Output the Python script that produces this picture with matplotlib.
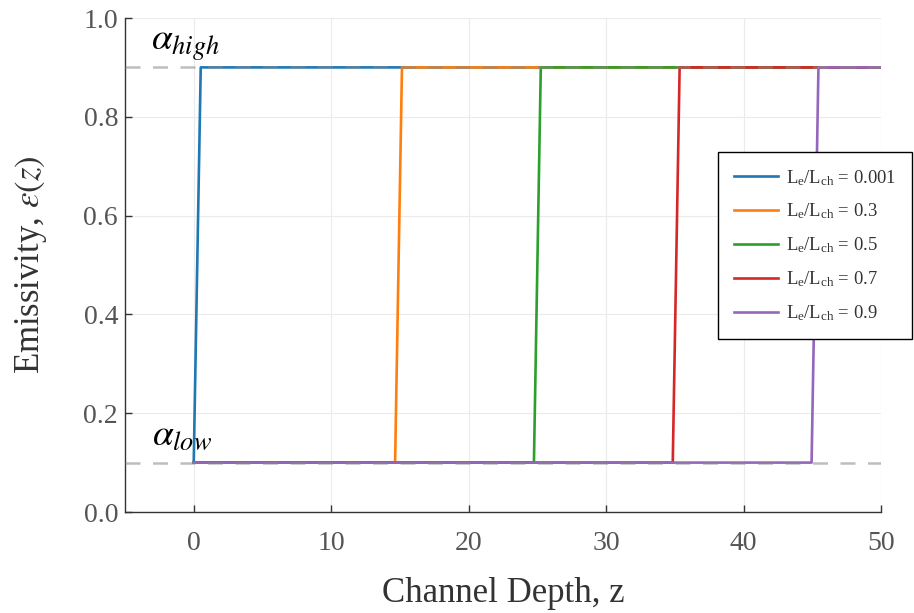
import matplotlib
matplotlib.use("Agg")
import matplotlib.pyplot as plt

# Emissivity profiles: low value up to the ramp start, high value after the ramp end
ratios = [0.001, 0.3, 0.5, 0.7, 0.9]
ramp_start = [0.0, 14.65, 24.75, 34.85, 44.95]
ramp_end = [0.51, 15.15, 25.25, 35.35, 45.45]
alpha_low = 0.1
alpha_high = 0.9
z_min, z_max = 0.0, 50.0
colors = ["#1f77b4", "#ff7f0e", "#2ca02c", "#d62728", "#9467bd"]

plt.rcParams["font.family"] = ["Liberation Serif", "DejaVu Serif"]
plt.rcParams["mathtext.fontset"] = "custom"
plt.rcParams["mathtext.rm"] = "Liberation Serif"
plt.rcParams["mathtext.it"] = "Liberation Serif:italic"

fig = plt.figure(figsize=(9.14, 6.13), dpi=100)
ax = fig.add_axes([125 / 914, 1 - 512 / 613, (881 - 125) / 914, (512 - 18) / 613])

for r, zs, ze, c in zip(ratios, ramp_start, ramp_end, colors):
    z = [z_min, zs, ze, z_max]
    e = [alpha_low, alpha_low, alpha_high, alpha_high]
    ax.plot(z, e, color=c, lw=1.9, label=r"L$_\mathrm{e}$/L$_\mathrm{ch}$ = " + f"{r:g}", zorder=3)

for level in (alpha_low, alpha_high):
    ax.plot([-5, 50], [level, level], color="#888888", alpha=0.55, lw=1.8,
            dashes=(6, 5), zorder=4)

ax.text(-3.1, 0.935, r"$\alpha_{high}$", fontsize=27, math_fontfamily="stix")
ax.text(-3.0, 0.135, r"$\alpha_{low}$", fontsize=27, math_fontfamily="stix")

ax.set_xlim(-5, 50)
ax.set_ylim(0, 1.0)
ax.set_xticks([0, 10, 20, 30, 40, 50])
ax.set_yticks([0.0, 0.2, 0.4, 0.6, 0.8, 1.0])
ax.set_yticklabels(["0.0", "0.2", "0.4", "0.6", "0.8", "1.0"])
ax.grid(True, color="#ebebeb", lw=0.8)
ax.set_axisbelow(True)
for s in ("top", "right"):
    ax.spines[s].set_visible(False)
for s in ("left", "bottom"):
    ax.spines[s].set_color("#333333")
    ax.spines[s].set_linewidth(1.0)
ax.tick_params(direction="in", length=5, width=1, color="#333333",
               labelsize=20, labelcolor="#555555")
ax.tick_params(axis="y", pad=5)
ax.tick_params(axis="x", pad=14)

ax.set_xlabel("Channel Depth, z", fontsize=25, color="#333333", labelpad=15)
ax.set_ylabel(r"Emissivity, $\varepsilon(z)$", fontsize=25, color="#333333", labelpad=25)
ax.yaxis.label.set_math_fontfamily("stix")

leg = ax.legend(loc="upper left", bbox_to_anchor=(718 / 914, 1 - 152 / 613),
                bbox_transform=fig.transFigure, fontsize=13.4, frameon=True,
                fancybox=False, edgecolor="black", framealpha=1,
                handlelength=2.4, borderpad=0.85, labelspacing=0.76,
                handletextpad=0.4, borderaxespad=0)
leg.get_frame().set_linewidth(1.0)
for t in leg.get_texts():
    t.set_color("#333333")

fig.savefig("out.png", dpi=100)
